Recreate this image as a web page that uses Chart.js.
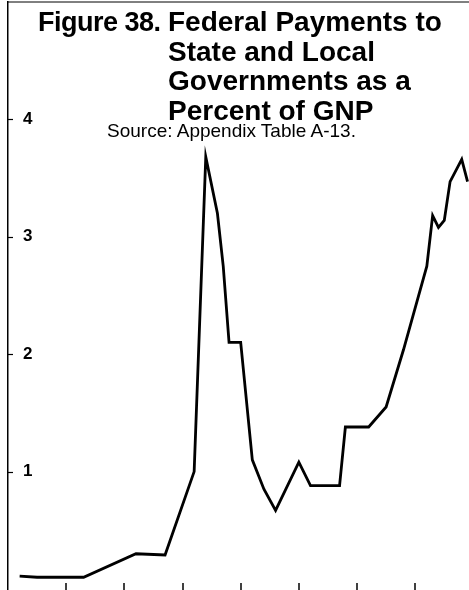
<!DOCTYPE html>
<html>
<head>
<meta charset="utf-8">
<script src="https://cdn.jsdelivr.net/npm/chart.js@4"></script>
<style>
  body { margin: 0; background: #fff; }
  #cadre { position: relative; width: 469px; height: 590px; }
  .titre { position: absolute; font-family: "Liberation Sans", Arial, sans-serif; font-weight: bold; font-size: 28px; line-height: 1; color: #000; white-space: nowrap; }
  .source { position: absolute; font-family: "Liberation Sans", Arial, sans-serif; font-size: 19px; line-height: 1; color: #000; white-space: nowrap; }
</style>
</head>
<body>
<div id="cadre">
  <canvas id="graphique-gnp" width="469" height="590"></canvas>
  <div class="titre" style="left:38px; top:9px; font-size:27px; letter-spacing:-0.5px;">Figure 38.</div>
  <div class="titre" style="left:168px; top:8px;">Federal Payments to</div>
  <div class="titre" style="left:168px; top:37.5px;">State and Local</div>
  <div class="titre" style="left:168px; top:67px;">Governments as a</div>
  <div class="titre" style="left:168px; top:96.5px;">Percent of GNP</div>
  <div class="source" style="left:107px; top:121px;">Source: Appendix Table A-13.</div>
</div>
<script>
// Années et paiements fédéraux (en % du PNB)
const annees = [1902, 1905, 1913, 1922, 1927, 1932, 1934, 1936, 1937, 1938, 1940, 1942, 1944, 1946, 1950, 1952, 1957, 1958, 1962, 1965, 1968, 1972, 1973, 1974, 1975, 1976, 1978, 1979];
const pourcentages = [0.11, 0.10, 0.10, 0.30, 0.29, 1.0, 3.68, 3.2, 2.75, 2.1, 2.1, 1.1, 0.85, 0.67, 1.08, 0.88, 0.88, 1.38, 1.38, 1.55, 2.04, 2.75, 3.18, 3.08, 3.14, 3.47, 3.66, 3.47];

// Graduations des axes
const graduationsY = [1, 2, 3, 4];
const graduationsX = [1910, 1920, 1930, 1940, 1950, 1960, 1970];

// Petit plugin pour le cadre et les petits traits de graduation tournés vers l'intérieur
const cadrePlugin = {
  id: "cadre",
  afterDraw(chart) {
    const ctx = chart.ctx;
    const zone = chart.chartArea;
    const x = chart.scales.x;
    const y = chart.scales.y;
    ctx.save();
    ctx.strokeStyle = "#000";
    // trait du haut
    ctx.lineWidth = 1;
    ctx.beginPath();
    ctx.moveTo(zone.left, zone.top);
    ctx.lineTo(zone.right, zone.top);
    ctx.stroke();
    // graduations de l'axe vertical
    ctx.lineWidth = 1.2;
    for (const v of graduationsY) {
      const py = Math.round(y.getPixelForValue(v)) + 0.5;
      ctx.beginPath();
      ctx.moveTo(zone.left, py);
      ctx.lineTo(zone.left + 5, py);
      ctx.stroke();
    }
    // graduations de l'axe horizontal
    ctx.lineWidth = 1.5;
    for (const v of graduationsX) {
      const px = Math.round(x.getPixelForValue(v));
      ctx.beginPath();
      ctx.moveTo(px, zone.bottom + 1);
      ctx.lineTo(px, zone.bottom - 6);
      ctx.stroke();
    }
    ctx.restore();
  }
};

const donnees = {
  datasets: [{
    label: "Federal payments",
    data: annees.map((a, i) => ({ x: a, y: pourcentages[i] })),
    borderColor: "#000",
    borderWidth: 2.8,
    pointRadius: 0,
    tension: 0,
    fill: false,
  }],
};

const config = {
  type: "line",
  data: donnees,
  options: {
    responsive: false,
    animation: false,
    layout: { padding: { top: 2, right: 0, bottom: 1, left: 0 } },
    plugins: { legend: { display: false }, tooltip: { enabled: false } },
    scales: {
      x: {
        type: "linear",
        min: 1900,
        max: 1979.25,
        display: false,
      },
      y: {
        min: 0,
        max: 5,
        // pas de marge réservée pour les étiquettes : elles sont dans le graphique
        afterFit: (s) => { s.width = 8; s.paddingTop = 0; s.paddingBottom = 0; },
        grid: { display: false },
        border: { display: true, color: "#000", width: 1.5 },
        afterBuildTicks: (s) => { s.ticks = graduationsY.map(v => ({ value: v })); },
        ticks: {
          mirror: true,
          padding: 15,
          color: "#000",
          font: { family: "Liberation Sans", size: 17, weight: "bold" },
        },
      },
    },
  },
  plugins: [cadrePlugin],
};

new Chart(document.querySelector("#graphique-gnp"), config);
</script>
</body>
</html>
